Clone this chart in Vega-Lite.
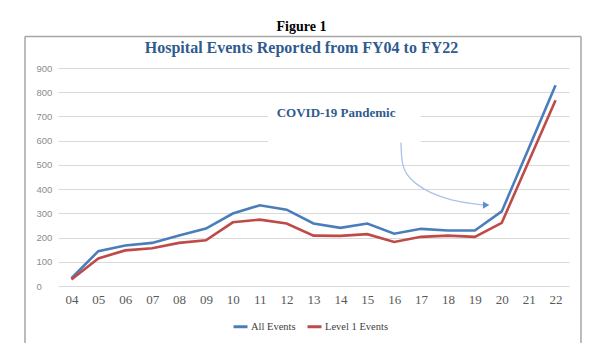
{
  "$schema": "https://vega.github.io/schema/vega-lite/v6.json",
  "autosize": {"type": "none"},
  "width": 511,
  "height": 218,
  "padding": {"left": 58, "top": 68, "right": 31, "bottom": 70},
  "background": "white",
  "title": {
    "text": "Figure 1",
    "subtitle": "Hospital Events Reported from FY04 to FY22",
    "anchor": "middle",
    "frame": "group",
    "font": "Liberation Serif",
    "fontSize": 14,
    "fontWeight": "bold",
    "color": "#000000",
    "subtitleFont": "Liberation Serif",
    "subtitleFontSize": 16,
    "subtitleFontWeight": "bold",
    "subtitleColor": "#2f5b8e",
    "subtitlePadding": 6,
    "offset": -20,
    "dx": -12
  },
  "datasets": {
    "events": [
      {"year": 4, "series": "All Events", "events": 32},
      {"year": 5, "series": "All Events", "events": 144},
      {"year": 6, "series": "All Events", "events": 167},
      {"year": 7, "series": "All Events", "events": 178},
      {"year": 8, "series": "All Events", "events": 208},
      {"year": 9, "series": "All Events", "events": 237},
      {"year": 10, "series": "All Events", "events": 299},
      {"year": 11, "series": "All Events", "events": 333},
      {"year": 12, "series": "All Events", "events": 315},
      {"year": 13, "series": "All Events", "events": 258},
      {"year": 14, "series": "All Events", "events": 240},
      {"year": 15, "series": "All Events", "events": 258},
      {"year": 16, "series": "All Events", "events": 216},
      {"year": 17, "series": "All Events", "events": 236},
      {"year": 18, "series": "All Events", "events": 229},
      {"year": 19, "series": "All Events", "events": 229},
      {"year": 20, "series": "All Events", "events": 308},
      {"year": 21, "series": "All Events", "events": 568},
      {"year": 22, "series": "All Events", "events": 829},
      {"year": 4, "series": "Level 1 Events", "events": 27},
      {"year": 5, "series": "Level 1 Events", "events": 114},
      {"year": 6, "series": "Level 1 Events", "events": 147},
      {"year": 7, "series": "Level 1 Events", "events": 156},
      {"year": 8, "series": "Level 1 Events", "events": 178},
      {"year": 9, "series": "Level 1 Events", "events": 189},
      {"year": 10, "series": "Level 1 Events", "events": 263},
      {"year": 11, "series": "Level 1 Events", "events": 274},
      {"year": 12, "series": "Level 1 Events", "events": 258},
      {"year": 13, "series": "Level 1 Events", "events": 208},
      {"year": 14, "series": "Level 1 Events", "events": 207},
      {"year": 15, "series": "Level 1 Events", "events": 214},
      {"year": 16, "series": "Level 1 Events", "events": 182},
      {"year": 17, "series": "Level 1 Events", "events": 203},
      {"year": 18, "series": "Level 1 Events", "events": 208},
      {"year": 19, "series": "Level 1 Events", "events": 203},
      {"year": 20, "series": "Level 1 Events", "events": 261},
      {"year": 21, "series": "Level 1 Events", "events": 514},
      {"year": 22, "series": "Level 1 Events", "events": 767}
    ],
    "frame": [
      {"year": 2.273, "year2": 2.273, "events": 1030, "events2": -235},
      {"year": 22.946, "year2": 22.946, "events": 1030, "events2": -235},
      {"year": 2.273, "year2": 22.946, "events": 1030, "events2": 1030}
    ],
    "box": [
      {"year": 11.31, "year2": 16.99, "events": 575, "events2": 755}
    ],
    "note": [
      {"year": 13.84, "events": 697, "label": "COVID-19 Pandemic"}
    ],
    "arrow": [
      {"year": 16.25, "events": 592, "o": 1},
      {"year": 16.27, "events": 540, "o": 2},
      {"year": 16.31, "events": 500, "o": 3},
      {"year": 16.44, "events": 462, "o": 4},
      {"year": 16.77, "events": 423, "o": 5},
      {"year": 17.36, "events": 382, "o": 6},
      {"year": 18.11, "events": 354, "o": 7},
      {"year": 19.0, "events": 338, "o": 8},
      {"year": 19.35, "events": 334, "o": 9}
    ],
    "head": [
      {"year": 19.42, "events": 334}
    ]
  },
  "encoding": {
    "x": {
      "field": "year", "type": "quantitative",
      "scale": {"domain": [3.5, 22.5], "nice": false, "zero": false},
      "axis": {
        "title": null, "values": [4,5,6,7,8,9,10,11,12,13,14,15,16,17,18,19,20,21,22],
        "format": "02d", "grid": false, "domain": false, "ticks": false,
        "labelFont": "Liberation Serif, Times New Roman, serif", "labelFontSize": 13, "labelColor": "#595959",
        "labelPadding": 7
      }
    },
    "y": {
      "field": "events", "type": "quantitative",
      "scale": {"domain": [0, 900]},
      "axis": {
        "title": null, "values": [0,100,200,300,400,500,600,700,800,900],
        "grid": true, "gridColor": "#d9d9d9", "gridWidth": 1,
        "domain": false, "ticks": false,
        "labelAlign": "left", "labelPadding": 22,
        "labelFont": "Liberation Sans", "labelFontSize": 9.5, "labelColor": "#8c8c8c"
      }
    }
  },
  "layer": [
    {
      "data": {"name": "frame"},
      "mark": {"type": "rule", "color": "#a6a6a6", "strokeWidth": 1.5},
      "encoding": {
        "x2": {"field": "year2"},
        "y2": {"field": "events2"}
      }
    },
    {
      "data": {"name": "events"},
      "mark": {"type": "line", "strokeWidth": 2.6},
      "encoding": {
        "color": {
          "field": "series", "type": "nominal",
          "scale": {"domain": ["All Events", "Level 1 Events"], "range": ["#4a7ebb", "#be4b48"]},
          "legend": {
            "title": null, "orient": "none", "direction": "horizontal",
            "legendX": 174, "legendY": 250,
            "symbolType": "stroke", "symbolStrokeWidth": 3, "symbolSize": 196,
            "labelFont": "Liberation Serif, Times New Roman, serif", "labelFontSize": 10.5, "labelColor": "#404040",
            "labelOffset": 2, "columnPadding": 5
          }
        }
      }
    },
    {
      "data": {"name": "box"},
      "mark": {"type": "rect", "fill": "white"},
      "encoding": {
        "x2": {"field": "year2"},
        "y2": {"field": "events2"}
      }
    },
    {
      "data": {"name": "note"},
      "mark": {"type": "text", "font": "Liberation Serif", "fontSize": 13, "fontWeight": "bold", "color": "#2f5b8e", "align": "center", "baseline": "alphabetic"},
      "encoding": {
        "text": {"field": "label"}
      }
    },
    {
      "data": {"name": "arrow"},
      "mark": {"type": "line", "color": "#a9c4e6", "strokeWidth": 1.3, "interpolate": "basis"},
      "encoding": {
        "order": {"field": "o"}
      }
    },
    {
      "data": {"name": "head"},
      "mark": {"type": "point", "shape": "triangle-right", "filled": true, "size": 55, "color": "#5b8fd0", "opacity": 1}
    }
  ],
  "config": {
    "view": {"stroke": null}
  }
}
